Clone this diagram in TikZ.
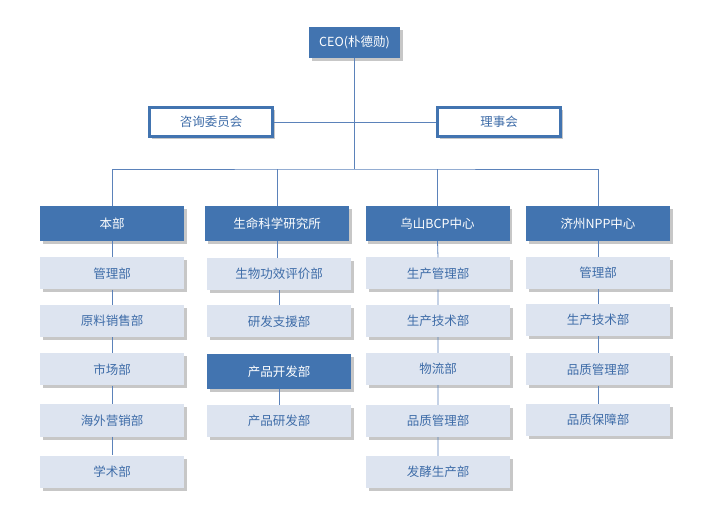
\documentclass[tikz,border=0pt]{standalone}
\usepackage{fontspec}
\setmainfont{Noto Sans CJK SC}
\usetikzlibrary{shadows}
\definecolor{dblue}{HTML}{4274B0}
\definecolor{lfill}{HTML}{DDE4F0}
\definecolor{ltext}{HTML}{3E6CA8}
\definecolor{lline}{HTML}{5B82BA}
\begin{document}
\begin{tikzpicture}[x=1pt,y=-1pt,
  base/.style={minimum width=144pt, minimum height=32pt, inner sep=0pt,
    font=\fontsize{12.5}{14}\selectfont,
    drop shadow={shadow xshift=2.5pt,shadow yshift=-3pt,opacity=0.22,fill=black}},
  headbox/.style={base, fill=dblue, text=white, minimum height=35pt},
  subbox/.style={base, fill=lfill, text=ltext},
  advbox/.style={base, fill=white, draw=dblue, line width=3pt, minimum width=123pt, minimum height=29pt, text=ltext},
  conn/.style={draw=lline, line width=0.8pt}]
\useasboundingbox (0,0) rectangle (710,521);
\fill[white] (0,0) rectangle (710,521);

\node[headbox, minimum width=91pt, minimum height=31pt] (ceo) at (354.5,42.5) {CEO(朴德勋)};
\node[advbox] (adv1) at (211,122) {咨询委员会};
\node[advbox] (adv2) at (499,122) {理事会};

\node[headbox] (h1) at (112,223.5) {本部};
\node[headbox] (h2) at (277,223.5) {生命科学研究所};
\node[headbox] (h3) at (437.5,223.5) {乌山BCP中心};
\node[headbox] (h4) at (598,223.5) {济州NPP中心};

% column 1
\node[subbox] (a1) at (112,273.5) {管理部};
\node[subbox] (a2) at (112,321) {原料销售部};
\node[subbox] (a3) at (112,369.5) {市场部};
\node[subbox] (a4) at (112,420.5) {海外营销部};
\node[subbox] (a5) at (112,471.5) {学术部};
% column 2
\node[subbox] (b1) at (279,274) {生物功效评价部};
\node[subbox] (b2) at (279,321.5) {研发支援部};
\node[headbox] (b3) at (279,371.5) {产品开发部};
\node[subbox] (b4) at (279,421) {产品研发部};
% column 3
\node[subbox] (c1) at (438,273.5) {生产管理部};
\node[subbox] (c2) at (438,321) {生产技术部};
\node[subbox] (c3) at (438,369) {物流部};
\node[subbox] (c4) at (438,421) {品质管理部};
\node[subbox] (c5) at (438,472) {发酵生产部};
% column 4
\node[subbox] (d1) at (598,273) {管理部};
\node[subbox] (d2) at (598,320) {生产技术部};
\node[subbox] (d3) at (598,369.5) {品质管理部};
\node[subbox] (d4) at (598,420) {品质保障部};

\coordinate (bus) at (354.5,169);
\draw[conn] (ceo.south) -- (bus);
\draw[conn] (adv1.east) -- (adv2.west);
\draw[conn] (h1.north) |- (bus) -| (h4.north);
\draw[conn] (h2.north) -- (h2.north |- bus);
\draw[conn] (h3.north) -- (h3.north |- bus);

\draw[conn] (h1.south) -- (a1.north) (a1.south) -- (a2.north) (a2.south) -- (a3.north) (a3.south) -- (a4.north) (a4.south) -- (a5.north);
\draw[conn] (h2.south) -- (h2.south |- b1.north) (b1.south) -- (b2.north) (b3.south) -- (b4.north);
\draw[conn] (h3.south) -- (c1.north) (c1.south) -- (c2.north) (c2.south) -- (c3.north) (c3.south) -- (c4.north) (c4.south) -- (c5.north);
\draw[conn] (h4.south) -- (d1.north) (d1.south) -- (d2.north) (d2.south) -- (d3.north) (d3.south) -- (d4.north);
\end{tikzpicture}
\end{document}
